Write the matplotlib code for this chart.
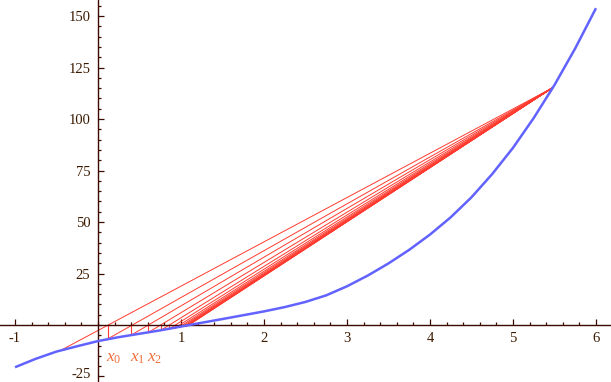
import matplotlib
matplotlib.use("Agg")
import matplotlib.pyplot as plt
from matplotlib.ticker import FixedLocator, MultipleLocator
from matplotlib.transforms import ScaledTranslation

# ---- data ----
curve_x = [-1.0, -0.75, -0.5, -0.25, 0.0, 0.25, 0.5, 0.75, 1.0, 1.25, 1.5, 1.75, 2.0,
           2.25, 2.5, 2.75, 3.0, 3.25, 3.5, 3.75, 4.0, 4.25, 4.5, 4.75, 5.0, 5.25,
           5.5, 5.75, 6.0]
curve_y = [-20.5, -16.4, -12.9, -10.3, -7.8, -5.9, -4.25, -2.6, -0.75, 1.1, 2.9, 4.75,
           6.6, 8.7, 11.2, 14.4, 18.8, 24.0, 29.9, 36.5, 43.9, 52.3, 62.0, 73.3, 86.0,
           100.5, 116.5, 134.3, 153.8]

# fixed end point of the secants
end_x = 5.47
end_y = 115.0

# start point of the first secant
start_x = -0.43
start_y = -11.9

# regula falsi iterates and curve values at them
iter_x = [0.115, 0.40, 0.607, 0.755, 0.859, 0.932, 0.983, 1.019, 1.044, 1.061,
          1.073, 1.082, 1.088, 1.092]
iter_y = [-6.8, -4.9, -3.6, -2.6, -1.85, -1.3, -0.9, -0.63, -0.44, -0.31,
          -0.22, -0.15, -0.1, -0.07]

x_ticks = [-1, 1, 2, 3, 4, 5, 6]
x_tick_labels = ["-1", "1", "2", "3", "4", "5", "6"]
y_ticks = [-25, 25, 50, 75, 100, 125, 150]
y_tick_labels = ["-25", "25", "50", "75", "100", "125", "150"]

iter_labels = [r"$x_{\mathit{0}}$", r"$x_{\mathit{1}}$", r"$x_{\mathit{2}}$"]

# ---- style ----
plt.rcParams["mathtext.fontset"] = "custom"
plt.rcParams["mathtext.rm"] = "Liberation Serif"
plt.rcParams["mathtext.it"] = "Liberation Serif:italic"
plt.rcParams["axes.unicode_minus"] = False

axis_color = "#3c0a00"
label_color = "#3c1a00"
red = "#ff3b2f"
blue = "#6262ff"
orange = "#f0703c"

fig = plt.figure(figsize=(6.11, 3.82), dpi=100)
ax = fig.add_axes([0, 0, 1, 1])
ax.set_xlim(-1.181, 6.181)
ax.set_ylim(-27.67, 157.77)

# secant lines
sx = [start_x] + iter_x
sy = [start_y] + iter_y
for px, py in zip(sx, sy):
    ax.plot([px, end_x], [py, end_y], color=red, lw=0.7, zorder=2)
# vertical segments at iterates
for px, py in zip(iter_x, iter_y):
    ax.plot([px, px], [0, py], color=red, lw=0.8, zorder=2)

# function curve
ax.plot(curve_x, curve_y, color=blue, lw=1.8, zorder=3,
        solid_capstyle="butt", solid_joinstyle="round")

# iterate labels
for px, lab in zip(iter_x[:3], iter_labels):
    ax.text(px - 0.02, -18.0, lab, color=orange, fontsize=12.5,
            ha="left", va="baseline")

# axes
for s in ["top", "right"]:
    ax.spines[s].set_visible(False)
ax.spines["left"].set_position(("data", 0))
ax.spines["bottom"].set_position(("data", 0))
for s in ["left", "bottom"]:
    ax.spines[s].set_color(axis_color)
    ax.spines[s].set_linewidth(1.0)

ax.xaxis.set_major_locator(FixedLocator(x_ticks))
ax.set_xticklabels(x_tick_labels)
ax.xaxis.set_minor_locator(MultipleLocator(0.2))
ax.yaxis.set_major_locator(FixedLocator(y_ticks))
ax.set_yticklabels(y_tick_labels)
ax.yaxis.set_minor_locator(MultipleLocator(5))

ax.tick_params(which="both", direction="in", color=axis_color, width=0.9)
ax.tick_params(which="major", length=4)
ax.tick_params(which="minor", length=2.5)
ax.tick_params(axis="x", which="major", pad=5, labelsize=10.5, labelcolor=label_color)
ax.tick_params(axis="y", which="major", pad=5.5, labelsize=10.5, labelcolor=label_color)
for lab in ax.get_xticklabels() + ax.get_yticklabels():
    lab.set_fontfamily("Liberation Serif")

# nudge the lowest y label up slightly so it stays inside the canvas
low = ax.get_yticklabels()[0]
low.set_transform(low.get_transform() + ScaledTranslation(0, 2.5 / 72, fig.dpi_scale_trans))

fig.savefig("out.png", dpi=100)
